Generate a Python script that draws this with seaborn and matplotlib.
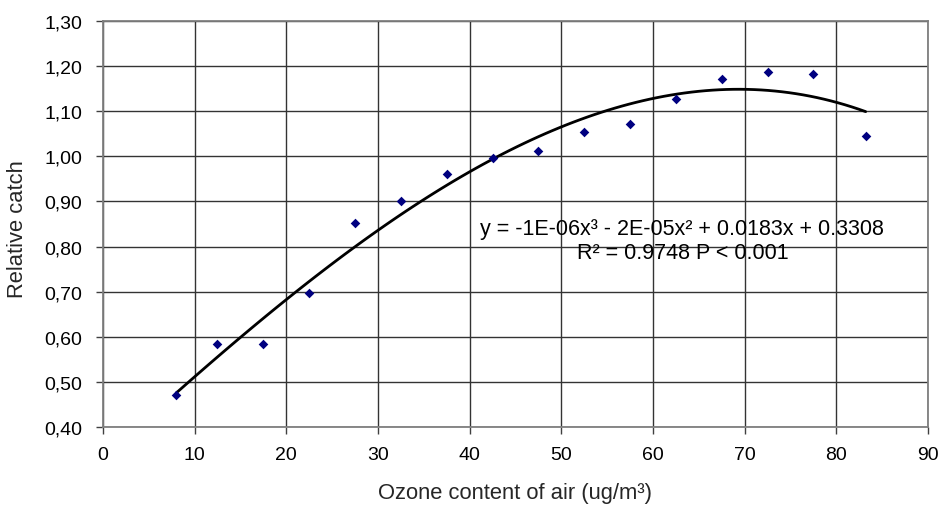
import numpy as np
import pandas as pd
import matplotlib
matplotlib.use("Agg")
import matplotlib.pyplot as plt
import seaborn as sns
from matplotlib.ticker import MultipleLocator, FuncFormatter

# Ozone concentration classes (midpoints) and relative catch
ozone = [8.0, 12.4, 17.4, 22.5, 27.5, 32.5, 37.5, 42.5, 47.5, 52.5, 57.5, 62.5, 67.5, 72.5, 77.5, 83.2]
catch = [0.471, 0.584, 0.585, 0.697, 0.852, 0.901, 0.961, 0.997, 1.012, 1.053, 1.071, 1.127, 1.172, 1.188, 1.183, 1.045]

equation = "y = -1E-06x³ - 2E-05x² + 0.0183x + 0.3308"
stats = "R² = 0.9748 P < 0.001"

df = pd.DataFrame({"ozone": ozone, "catch": catch})

sns.set_theme(style="white")
plt.rcParams["font.family"] = ["Liberation Sans", "DejaVu Sans"]

fig = plt.figure(figsize=(9.42, 5.06), dpi=100)
ax = fig.add_axes([103 / 942, 1 - 428 / 506, 825 / 942, 406 / 506])

# cubic trend line fitted to the points
sns.regplot(data=df, x="ozone", y="catch", order=3, ci=None, scatter=False,
            truncate=True, ax=ax, line_kws=dict(color="black", lw=2.0, zorder=3))
sns.scatterplot(data=df, x="ozone", y="catch", ax=ax, marker="D", s=24,
                color="#000080", edgecolor="#000080", linewidth=0, zorder=4)

ax.set_xlim(0, 90)
ax.set_ylim(0.40, 1.30)
ax.xaxis.set_major_locator(MultipleLocator(10))
ax.yaxis.set_major_locator(MultipleLocator(0.10))
ax.yaxis.set_major_formatter(FuncFormatter(lambda v, p: f"{v:.2f}".replace(".", ",")))

ax.grid(True, color="#333333", lw=1.0)
ax.set_axisbelow(True)
for s in ax.spines.values():
    s.set_color("#7f7f7f")
    s.set_linewidth(1.3)

ax.tick_params(axis="both", which="major", direction="out", length=5, width=1,
               color="#404040", labelsize=14, labelcolor="black",
               bottom=True, left=True)
ax.tick_params(axis="y", pad=10)
ax.tick_params(axis="x", pad=9)

ax.set_xlabel("Ozone content of air (ug/m³)", fontsize=15.8, va="center", ha="center")
ax.xaxis.set_label_coords(0.5, (428 - 494) / 406)
ax.set_ylabel("Relative catch", fontsize=15.8, va="center", ha="center")
ax.yaxis.set_label_coords((17.5 - 103) / 825, 0.49)

ax.text(63.2, 0.840, equation, fontsize=15.5, ha="center", va="center", color="black")
ax.text(63.2, 0.786, stats, fontsize=15.5, ha="center", va="center", color="black")

fig.savefig("out.png", dpi=100, facecolor="white")
